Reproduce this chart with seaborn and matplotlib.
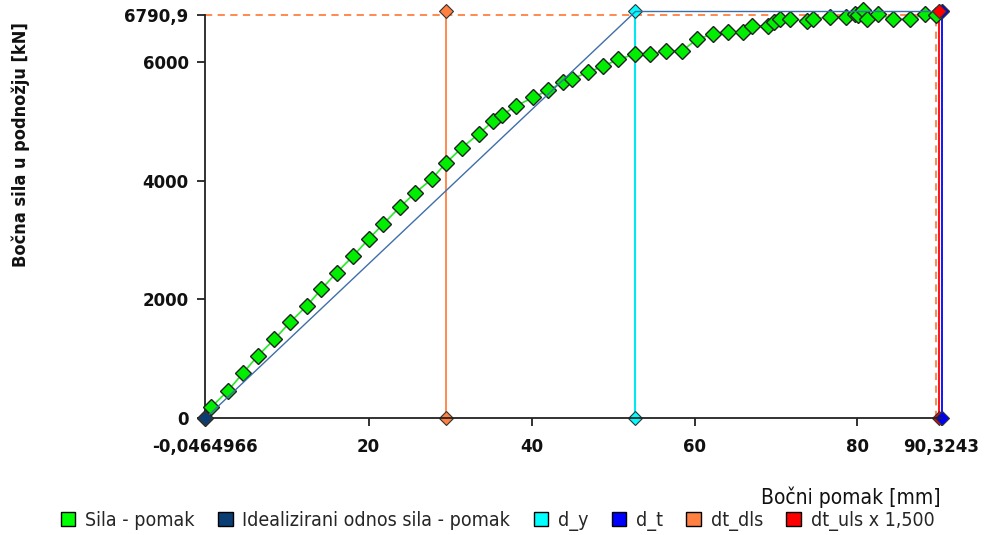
import numpy as np
import pandas as pd
import seaborn as sns
import matplotlib.pyplot as plt
from matplotlib.patches import Patch

# krivulja sila - pomak (ocitano s grafa)
pomak = [-0.0464966, 0.65, 2.69, 4.61, 6.37, 8.42, 10.34, 12.38, 14.18, 16.06, 18.11,
         19.99, 21.75, 23.79, 25.72, 27.72, 29.52, 31.45, 33.49, 35.29, 36.31,
         38.11, 40.2, 42.07, 43.91, 44.94, 46.98, 48.82, 50.66, 52.63, 54.55,
         56.52, 58.44, 60.28, 62.24, 64.16, 66.0, 67.03, 69.07, 69.71, 70.51,
         71.74, 73.78, 74.59, 76.58, 78.54, 79.71, 80.07, 80.72, 81.14, 82.56,
         84.4, 86.45, 88.29, 89.6]
sila = [0, 185, 459, 767, 1048, 1329, 1615, 1890, 2171, 2450, 2733,
        3017, 3264, 3550, 3796, 4022, 4301, 4553, 4784, 5003, 5098,
        5260, 5398, 5524, 5658, 5709, 5826, 5927, 6041, 6125, 6130,
        6180, 6180, 6377, 6466, 6495, 6492, 6609, 6596, 6668, 6720,
        6716, 6686, 6716, 6756, 6756, 6803, 6794, 6870, 6727, 6799,
        6714, 6714, 6799, 6790.9]

# idealizirani odnos
ideal_x = [-0.0464966, 52.75, 90.3243]
ideal_y = [0, 6845, 6845]

d_y = 52.75
d_t = 90.3243
dt_dls = 29.55
dt_uls = 90.05
dt_max = 89.6
f_max = 6790.9
f_top = 6845

x_min, x_max = -0.0464966, 90.3243

sns.set_style("ticks")
plt.rcParams['font.family'] = ['DejaVu Sans']

fig = plt.figure(figsize=(9.84, 5.35), dpi=100)
ax = fig.add_axes([0.2087, 0.2181, 0.9569 - 0.2087, 0.9725 - 0.2181])

mk = dict(marker='D', markersize=7, markeredgecolor='#333333', markeredgewidth=0.8)

# vertikalne linije
ax.plot([dt_dls, dt_dls], [0, f_top], color='#ff8040', lw=1.3, markerfacecolor='#ff8040', zorder=2, **mk)
ax.plot([d_y, d_y], [0, f_top], color='#00e8f0', lw=1.5, markerfacecolor='#00ffff', zorder=2, **mk)
ax.plot([dt_uls, dt_uls], [0, f_top], color='#ff0000', lw=1.3, markerfacecolor='#ff0000', zorder=2, **mk)
ax.plot([d_t, d_t], [0, f_top], color='#0000ff', lw=1.3, markerfacecolor='#0000ff', zorder=2, **mk)

# isprekidane linije
ax.plot([x_min, dt_max], [f_max, f_max], color='#ff8040', lw=1.3, ls=(0, (4, 3)), zorder=1)
ax.plot([dt_max, dt_max], [0, f_max], color='#ff8040', lw=1.3, ls=(0, (4, 3)), zorder=1)

df = pd.DataFrame({'pomak': pomak, 'sila': sila})
sns.lineplot(data=df, x='pomak', y='sila', ax=ax, sort=False, estimator=None,
             color='#22ee22', lw=1.2, marker='D', markersize=8,
             markerfacecolor='#00ee00', markeredgecolor='#222222', markeredgewidth=1.0, zorder=3)

ax.plot(ideal_x, ideal_y, color='#3f6fa8', lw=1.0, zorder=4)
ax.plot([ideal_x[0]], [ideal_y[0]], color='#0b3d75', markerfacecolor='#0b3d75', zorder=5, **mk)
ax.plot([d_t], [f_top], color='#0000ff', markerfacecolor='#0000ff', zorder=5, **mk)
ax.plot([dt_uls], [f_top], color='#ff0000', markerfacecolor='#ff0000', zorder=5, **mk)

for ln in ax.lines:
    ln.set_clip_on(False)

ax.set_xlim(x_min, x_max)
ax.set_ylim(0, f_max)
ax.set_xticks([x_min, 20, 40, 60, 80, x_max])
ax.set_xticklabels(['-0,0464966', '20', '40', '60', '80', '90,3243'])
ax.set_yticks([0, 2000, 4000, 6000, f_max])
ax.set_yticklabels(['0', '2000', '4000', '6000', '6790,9'])
ax.tick_params(direction='out', length=6, width=1.3, color='#222222',
               labelsize=12, labelcolor='#111111', pad=6)
ax.tick_params(axis='x', pad=8)
for lab in ax.get_xticklabels() + ax.get_yticklabels():
    lab.set_fontweight('bold')
for s in ['left', 'bottom']:
    ax.spines[s].set_linewidth(1.3)
    ax.spines[s].set_color('#222222')
ax.spines['top'].set_visible(False)
ax.spines['right'].set_visible(False)
ax.set_xlabel('')
ax.set_ylabel('')

fig.text(0.021, 0.73, 'Bočna sila u podnožju [kN]', rotation=90, va='center', ha='center',
         fontsize=13, fontweight='bold', fontstretch='condensed', color='#111111')
fig.text(0.956, 0.071, 'Bočni pomak [mm]', ha='right', va='center',
         fontsize=15, fontstretch='condensed', color='#111111')

handles = [Patch(facecolor=c, edgecolor='black', lw=1) for c in
           ['#00ff00', '#0b3d75', '#00ffff', '#0000ff', '#ff8040', '#ff0000']]
labels = ['Sila - pomak', 'Idealizirani odnos sila - pomak', 'd_y', 'd_t', 'dt_dls', 'dt_uls x 1,500']
fig.legend(handles, labels, loc='center left', bbox_to_anchor=(0.052, 0.026), ncol=6,
           frameon=False, handlelength=0.75, handleheight=0.75, handletextpad=0.5,
           columnspacing=1.2, borderpad=0, prop={'stretch': 'condensed', 'size': 14})

fig.savefig('out.png', dpi=100)
